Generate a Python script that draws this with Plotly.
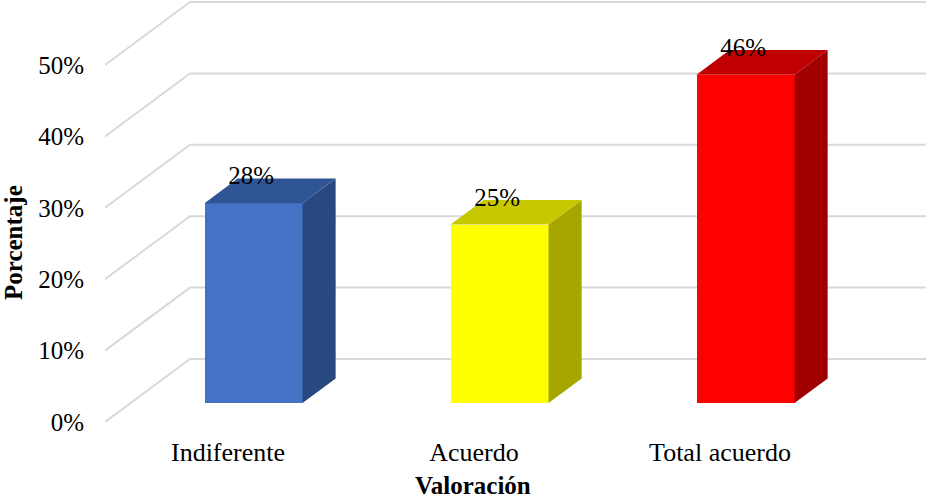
import plotly.graph_objects as go

# Survey results: share of answers per rating
categories = ["Indiferente", "Acuerdo", "Total acuerdo"]
values = [28, 25, 46]
value_labels = ["28%", "25%", "46%"]
tick_values = [0, 10, 20, 30, 40, 50]
tick_labels = ["0%", "10%", "20%", "30%", "40%", "50%"]

front_colors = ["#4472C4", "#FFFF00", "#FF0000"]
top_colors = ["#2F5597", "#C8C800", "#C00000"]
side_colors = ["#29487F", "#A6A600", "#A00000"]

FONT = "Liberation Serif, Times New Roman, serif"

# pixel geometry of the plotting area
W, H = 926, 501
ML, MB = 105, 79
PX_PER_CAT = 246.0
PX_PER_PCT = 7.14
plot_w = W - ML
plot_h = H - MB

# oblique projection of the depth axis (in data units)
DX = 85.0 / PX_PER_CAT
DY = 63.0 / PX_PER_PCT
BAR_D0, BAR_D1 = 0.30, 0.69   # depth range occupied by the columns
BAR_W = 98.0 / PX_PER_CAT

x_min = -0.5
x_max = x_min + plot_w / PX_PER_CAT
y_max = plot_h / PX_PER_PCT

fig = go.Figure()

# front faces
base = BAR_D0 * DY
centers = [i + BAR_D0 * DX for i in range(len(categories))]
fig.add_trace(go.Bar(
    x=centers, y=values, base=[base] * len(values), width=BAR_W,
    marker=dict(color=front_colors, line=dict(width=0)),
    hoverinfo="skip", showlegend=False,
))

# top and side faces
ddx = (BAR_D1 - BAR_D0) * DX
ddy = (BAR_D1 - BAR_D0) * DY
for c, v, tc, sc in zip(centers, values, top_colors, side_colors):
    xl, xr = c - BAR_W / 2, c + BAR_W / 2
    top = base + v
    fig.add_trace(go.Scatter(
        x=[xr, xr + ddx, xr + ddx, xr, xr],
        y=[base, base + ddy, top + ddy, top, base],
        fill="toself", fillcolor=sc, mode="lines", line=dict(width=0, color=sc),
        hoverinfo="skip", showlegend=False,
    ))
    fig.add_trace(go.Scatter(
        x=[xl, xr, xr + ddx, xl + ddx, xl],
        y=[top, top, top + ddy, top + ddy, top],
        fill="toself", fillcolor=tc, mode="lines", line=dict(width=0, color=tc),
        hoverinfo="skip", showlegend=False,
    ))

# value labels above each column
fig.add_trace(go.Scatter(
    x=[c - 0.01 for c in centers],
    y=[base + v + 25.0 / PX_PER_PCT for v in values],
    mode="text", text=value_labels, textposition="middle center",
    textfont=dict(family=FONT, size=25, color="black"),
    hoverinfo="skip", showlegend=False, cliponaxis=False,
))

# gridlines: diagonal on the side wall, horizontal on the back wall
shapes = []
for t in tick_values:
    path = (f"M {x_min},{t} L {x_min + DX},{t + DY} L {x_max + 1},{t + DY}")
    shapes.append(dict(type="path", path=path, xref="x", yref="y",
                       line=dict(color="#D9D9D9", width=2), layer="below"))

fig.update_layout(
    width=W, height=H,
    margin=dict(l=ML, r=0, t=0, b=MB),
    paper_bgcolor="white", plot_bgcolor="white",
    shapes=shapes,
    xaxis=dict(range=[x_min, x_max], tickvals=list(range(len(categories))),
               ticktext=categories, showgrid=False, zeroline=False,
               showline=False, ticks="", ticklabelstandoff=12,
               tickfont=dict(family=FONT, size=26, color="black"),
               fixedrange=True),
    yaxis=dict(range=[0, y_max], tickvals=tick_values, ticktext=tick_labels,
               showgrid=False, zeroline=False, showline=False, ticks="",
               ticklabelstandoff=20,
               tickfont=dict(family=FONT, size=25, color="black"),
               fixedrange=True),
    annotations=[
        dict(text="<b>Porcentaje</b>", textangle=-90, xref="paper", yref="paper",
             x=(13 - ML) / plot_w, y=(plot_h - 243) / plot_h,
             xanchor="center", yanchor="middle", showarrow=False,
             font=dict(family=FONT, size=25, color="black")),
        dict(text="<b>Valoración</b>", xref="paper", yref="paper",
             x=(473 - ML) / plot_w, y=(plot_h - 501) / plot_h,
             xanchor="center", yanchor="bottom", showarrow=False,
             font=dict(family=FONT, size=25, color="black")),
    ],
    bargap=0,
)

fig.write_html("out.html")
